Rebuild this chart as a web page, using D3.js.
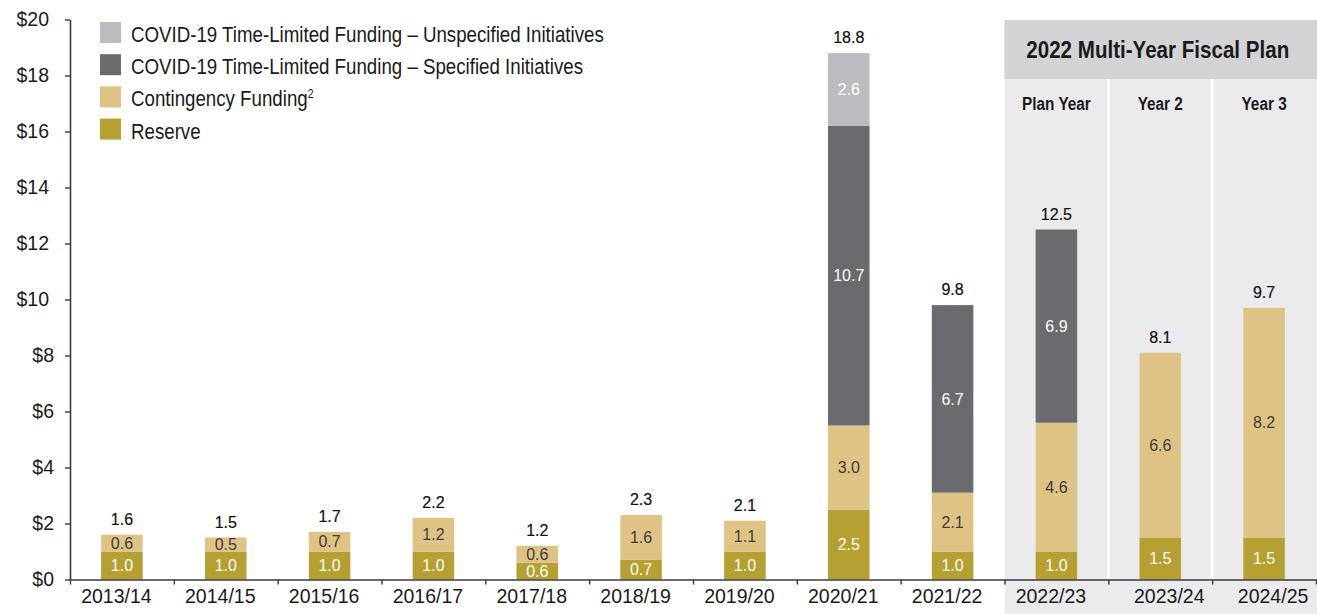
<!DOCTYPE html>
<html>
<head>
<meta charset="utf-8">
<script src="https://cdn.jsdelivr.net/npm/d3@7"></script>
<style>
  html, body { margin: 0; padding: 0; background: #fff; }
  svg { display: block; }
</style>
</head>
<body>
<svg id="chart" width="1317" height="614"></svg>
<script>
// Fiscal years and funding components ($ billions)
const fiscalYears = ["2013/14","2014/15","2015/16","2016/17","2017/18","2018/19","2019/20","2020/21","2021/22","2022/23","2023/24","2024/25"];
const reserve          = [1.0, 1.0, 1.0, 1.0, 0.6, 0.7, 1.0, 2.5, 1.0, 1.0, 1.5, 1.5];
const contingency      = [0.6, 0.5, 0.7, 1.2, 0.6, 1.6, 1.1, 3.0, 2.1, 4.6, 6.6, 8.2];
const covidSpecified   = [0,   0,   0,   0,   0,   0,   0,   10.7, 6.7, 6.9, 0,   0];
const covidUnspecified = [0,   0,   0,   0,   0,   0,   0,   2.6,  0,   0,   0,   0];
const yTicks = [0, 2, 4, 6, 8, 10, 12, 14, 16, 18, 20];

const planTitle = "2022 Multi-Year Fiscal Plan";
const planColumns = ["Plan Year", "Year 2", "Year 3"];
const planFirstYear = "2022/23";

const seriesKeys = ["reserve", "contingency", "specified", "unspecified"];
const seriesColor = {
  reserve: "#b5a031",
  contingency: "#dfc384",
  specified: "#6b6b6f",
  unspecified: "#bcbcc0"
};
const seriesLabelColor = {
  reserve: "#ffffff",
  contingency: "#3c3c3c",
  specified: "#ffffff",
  unspecified: "#ffffff"
};
// Legend, listed top to bottom
const legendItems = [
  { key: "unspecified", text: "COVID-19 Time-Limited Funding – Unspecified Initiatives" },
  { key: "specified",   text: "COVID-19 Time-Limited Funding – Specified Initiatives" },
  { key: "contingency", text: "Contingency Funding", sup: "2" },
  { key: "reserve",     text: "Reserve" }
];

const rows = fiscalYears.map((year, i) => ({
  year,
  reserve: reserve[i],
  contingency: contingency[i],
  specified: covidSpecified[i],
  unspecified: covidUnspecified[i]
}));

const svg = d3.select("#chart");
const W = 1317, H = 614;
const plotLeft = 70, plotRight = 1316, plotTop = 19.5, plotBottom = 579.5;

const x = d3.scaleBand()
  .domain(fiscalYears)
  .range([plotLeft, plotRight])
  .paddingInner(0.6)
  .paddingOuter(0.3);
const y = d3.scaleLinear().domain([0, 20]).range([plotBottom, plotTop]);

// category boundaries (between bands)
const xEdge = d3.scaleLinear().domain([0, fiscalYears.length]).range([plotLeft, plotRight]);

const font = "'Liberation Sans', Arial, sans-serif";

// condensed text: a horizontally squeezed Liberation Sans
function condensedText(parent, px, py, squeeze) {
  return parent.append("text")
    .attr("transform", `translate(${px},${py}) scale(${squeeze},1)`)
    .attr("font-family", font);
}

// ---- Multi-year plan panel ----
const planIdx = fiscalYears.indexOf(planFirstYear);
const panelX = xEdge(planIdx);
const headerTop = 20, headerBottom = 79;

svg.append("rect")
  .attr("x", panelX).attr("y", headerTop)
  .attr("width", W - panelX).attr("height", H - headerTop)
  .attr("fill", "#ebebed");
svg.append("rect")
  .attr("x", panelX).attr("y", headerTop)
  .attr("width", W - panelX).attr("height", headerBottom - headerTop)
  .attr("fill", "#d3d3d5");
condensedText(svg, (panelX + W) / 2 - 3, 58, 0.84)
  .attr("text-anchor", "middle")
  .attr("font-weight", "bold")
  .attr("font-size", 24.5).attr("fill", "#1a1a1a")
  .text(planTitle);

planColumns.forEach((label, k) => {
  const idx = planIdx + k;
  if (k > 0) {
    svg.append("line")
      .attr("x1", xEdge(idx)).attr("x2", xEdge(idx))
      .attr("y1", headerBottom).attr("y2", plotBottom)
      .attr("stroke", "#ffffff").attr("stroke-width", 3);
  }
  condensedText(svg, x(fiscalYears[idx]) + x.bandwidth() / 2, 110, 0.83)
    .attr("text-anchor", "middle")
    .attr("font-weight", "bold")
    .attr("font-size", 18.5).attr("fill", "#1a1a1a")
    .text(label);
});

// ---- Stacked bars ----
const stacked = d3.stack().keys(seriesKeys)(rows);

const layers = svg.append("g").selectAll("g")
  .data(stacked)
  .join("g");

layers.selectAll("rect")
  .data(s => s.filter(d => d[1] - d[0] > 0).map(d => ({ d, key: s.key })))
  .join("rect")
  .attr("x", o => x(o.d.data.year))
  .attr("width", x.bandwidth())
  .attr("y", o => y(o.d[1]))
  .attr("height", o => y(o.d[0]) - y(o.d[1]))
  .attr("fill", o => seriesColor[o.key]);

const fmt = d3.format(".1f");

// segment value labels
layers.selectAll("text")
  .data(s => s.filter(d => d[1] - d[0] > 0).map(d => ({ d, key: s.key })))
  .join("text")
  .attr("x", o => x(o.d.data.year) + x.bandwidth() / 2)
  .attr("y", o => (y(o.d[0]) + y(o.d[1])) / 2)
  .attr("dy", "0.36em")
  .attr("text-anchor", "middle")
  .attr("font-family", font)
  .attr("font-size", 16)
  .attr("fill", o => seriesLabelColor[o.key])
  .text(o => fmt(o.d.data[o.key]));

// totals above bars
const totals = rows.map(r => ({ year: r.year, total: d3.sum(seriesKeys, k => r[k]) }));
svg.append("g").selectAll("text")
  .data(totals)
  .join("text")
  .attr("x", d => x(d.year) + x.bandwidth() / 2)
  .attr("y", d => y(d.total) - 10)
  .attr("text-anchor", "middle")
  .attr("font-family", font)
  .attr("font-size", 16)
  .attr("fill", "#111")
  .attr("stroke", "#111").attr("stroke-width", 0.2)
  .text(d => fmt(d.total));

// ---- Axes ----
const axisColor = "#3a3a3a";

const yAxis = svg.append("g")
  .attr("transform", `translate(${plotLeft},0)`)
  .call(d3.axisLeft(y).tickValues(yTicks).tickFormat(d => "$" + d)
    .tickSize(5).tickSizeOuter(0).tickPadding(11));
yAxis.select(".domain").attr("stroke", axisColor).attr("stroke-width", 1.6);
yAxis.selectAll(".tick line").attr("stroke", axisColor).attr("stroke-width", 1.4);
yAxis.selectAll(".tick text")
  .attr("font-family", font).attr("font-size", 19.5).attr("fill", "#1a1a1a")
  .attr("dx", d => d >= 10 ? -5 : 0);

// boundary ticks along the baseline
const xTickAxis = svg.append("g")
  .attr("transform", `translate(0,${y(0)})`)
  .call(d3.axisBottom(xEdge).tickValues(d3.range(fiscalYears.length + 1))
    .tickFormat("").tickSize(5).tickSizeOuter(0));
xTickAxis.select(".domain").attr("stroke", axisColor).attr("stroke-width", 1.6);
xTickAxis.selectAll(".tick line").attr("stroke", axisColor).attr("stroke-width", 1.4);

// category labels
const xLabelAxis = svg.append("g")
  .attr("transform", `translate(0,${y(0)})`)
  .call(d3.axisBottom(x).tickSize(0).tickPadding(10));
xLabelAxis.select(".domain").remove();
xLabelAxis.selectAll(".tick text")
  .attr("font-family", font).attr("font-size", 19.5).attr("fill", "#1a1a1a")
  .attr("dx", (d, i) => i > planIdx ? 9 : -5.5);

// ---- Legend ----
const legend = svg.append("g");
legendItems.forEach((item, i) => {
  const base = 42 + 32.2 * i;
  legend.append("rect")
    .attr("x", 100).attr("y", base - 20)
    .attr("width", 21).attr("height", 21)
    .attr("fill", seriesColor[item.key]);
  const t = condensedText(legend, 131, base, 0.87)
    .attr("font-size", 21.5)
    .attr("fill", "#1a1a1a")
    .text(item.text);
  if (item.sup) {
    t.append("tspan")
      .attr("dy", -8).attr("font-size", 12)
      .text(item.sup);
  }
});
</script>
</body>
</html>
